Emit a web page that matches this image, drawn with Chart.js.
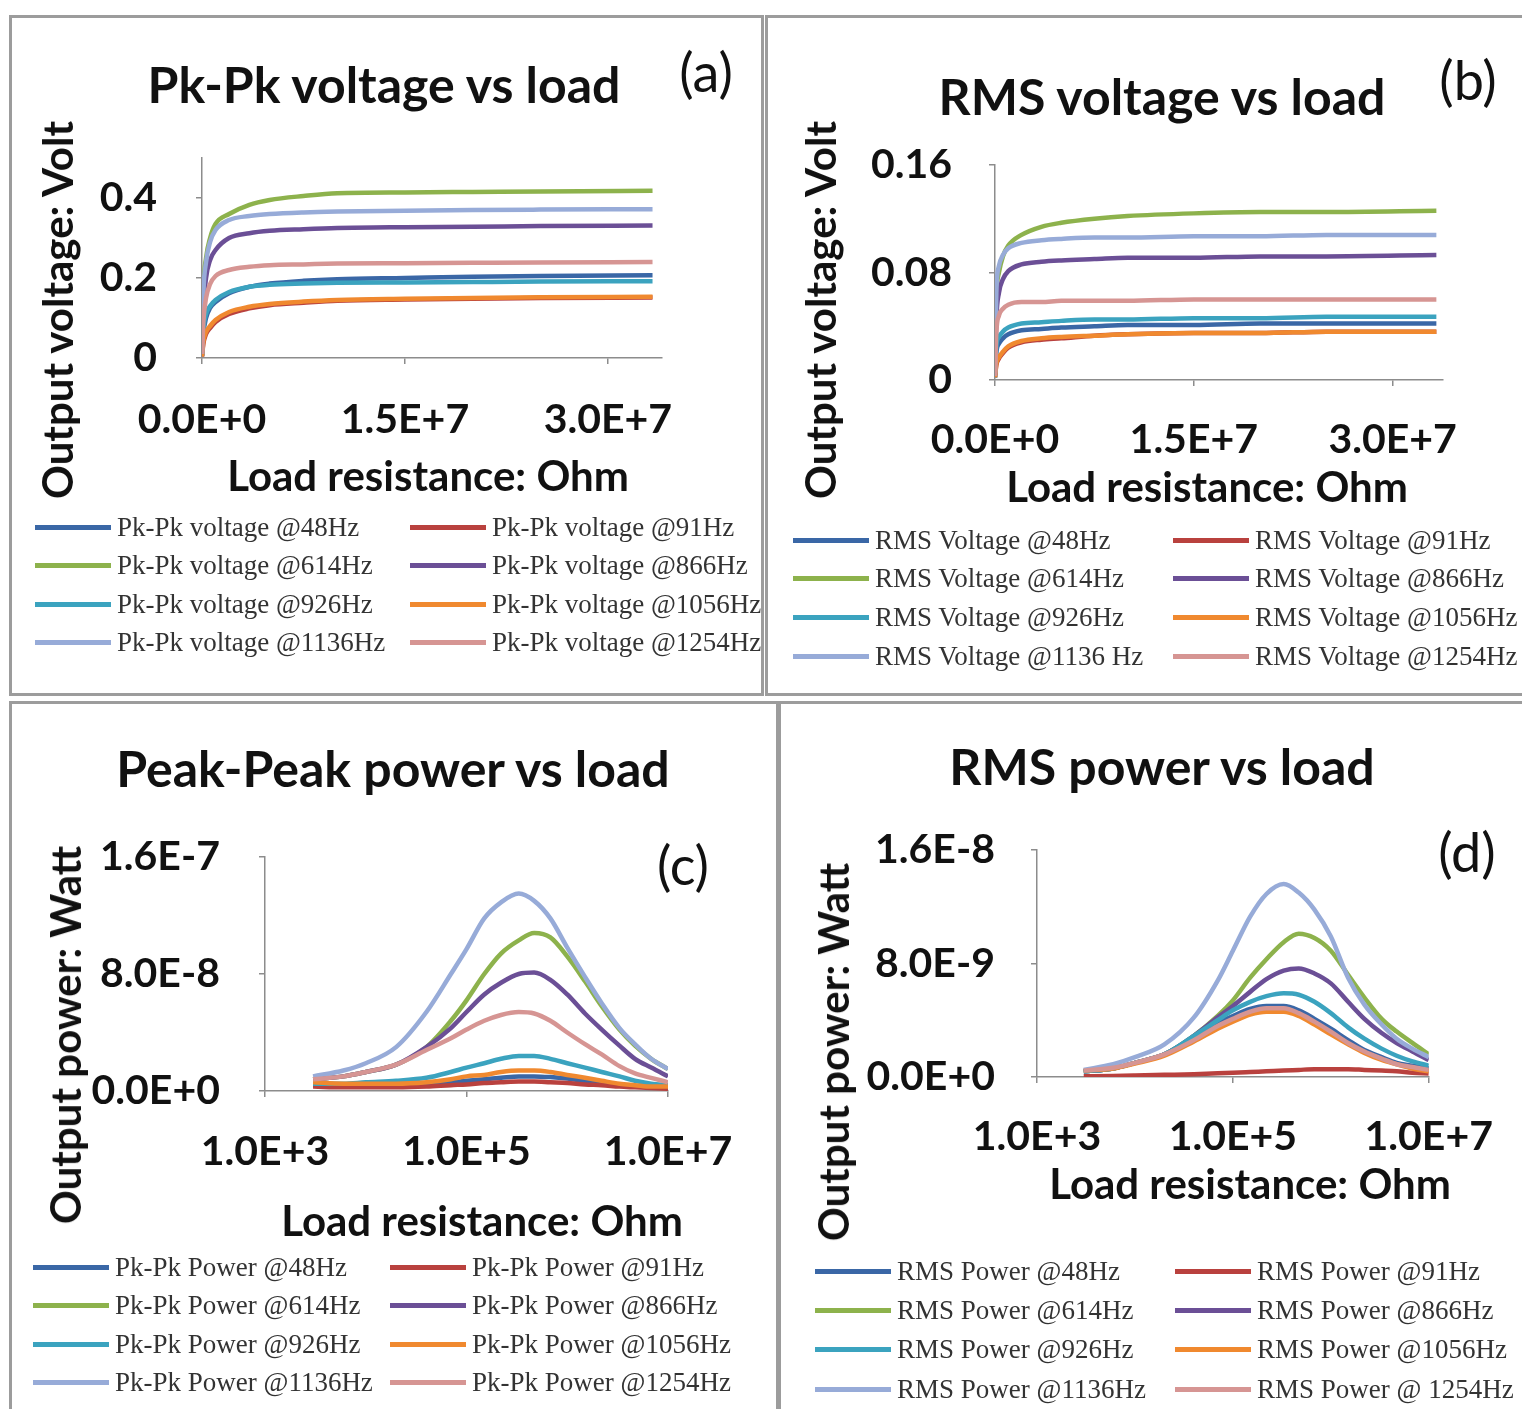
<!DOCTYPE html>
<html>
<head>
<meta charset="utf-8">
<title>Output voltage and power vs load</title>
<script src="https://cdn.jsdelivr.net/npm/chart.js@4.4.1/dist/chart.umd.min.js"></script>
<style>
  body { margin: 0; background: #fff; }
  #page { position: relative; width: 1522px; height: 1409px; overflow: hidden; background: #fff; }
  .frame { position: absolute; border: 3px solid #9c9c9c; box-sizing: border-box; }
  canvas { position: absolute; }
  .txt { position: absolute; white-space: nowrap; transform: translate(-50%, -50%); color: #111;
         font-family: Lato, "Open Sans", sans-serif; line-height: 1; }
  .title { font-size: 50px; font-weight: 700; }
  .tag { font-size: 54px; font-weight: 400; }
  .axt { font-size: 42px; font-weight: 700; }
  .vert { transform: translate(-50%, -50%) rotate(-90deg); }
  .leg { position: absolute; white-space: nowrap; font-family: "Liberation Serif", "DejaVu Serif", serif;
         font-size: 27px; color: #333; line-height: 30px; transform: translateY(-50%); }
  .leg i { display: inline-block; width: 76px; height: 5px; vertical-align: middle; margin-right: 6px;
           position: relative; top: -2px; }
</style>
</head>
<body>
<div id="page"></div>
<script>
// series: test frequencies, Excel 2007 line colours
const freqs = ['48Hz', '91Hz', '614Hz', '866Hz', '926Hz', '1056Hz', '1136Hz', '1254Hz'];
const seriesColors = ['#3A67A6', '#B9413E', '#8DB24C', '#6B4F96', '#3BA3BF', '#F0892F', '#97ABD8', '#D69593'];

// load resistance (Ohm) for the voltage sweeps (a), (b)
const loadVolt = [1e3, 1e5, 3e5, 6e5, 1e6, 2e6, 3.5e6, 5e6, 7.5e6, 1e7, 1.5e7, 2e7, 2.5e7, 3.33e7];
// load resistance (Ohm) for the power sweeps (c), (d)
const loadPow = [3e3, 6e3, 1e4, 2e4, 4e4, 7e4, 1e5, 1.5e5, 2.2e5, 3.3e5, 4.7e5, 6.8e5, 1e6, 1.5e6, 2.2e6, 3.3e6, 4.7e6, 6.8e6, 1e7];

// (a) peak-peak voltage, V
const vpp48   = [0.005, 0.06, 0.10, 0.125, 0.14, 0.162, 0.178, 0.186, 0.193, 0.197, 0.200, 0.203, 0.205, 0.207];
const vpp91   = [0.004, 0.035, 0.06, 0.075, 0.09, 0.11, 0.124, 0.132, 0.138, 0.143, 0.146, 0.148, 0.150, 0.151];
const vpp614  = [0.01, 0.17, 0.25, 0.30, 0.335, 0.36, 0.383, 0.395, 0.405, 0.412, 0.414, 0.415, 0.416, 0.418];
const vpp866  = [0.01, 0.12, 0.20, 0.245, 0.27, 0.30, 0.312, 0.318, 0.322, 0.325, 0.327, 0.328, 0.330, 0.331];
const vpp926  = [0.005, 0.07, 0.11, 0.13, 0.145, 0.165, 0.178, 0.183, 0.186, 0.188, 0.189, 0.190, 0.191, 0.192];
const vpp1056 = [0.004, 0.04, 0.065, 0.08, 0.095, 0.115, 0.128, 0.135, 0.141, 0.145, 0.148, 0.150, 0.152, 0.153];
const vpp1136 = [0.01, 0.16, 0.24, 0.29, 0.32, 0.345, 0.355, 0.36, 0.364, 0.366, 0.368, 0.370, 0.371, 0.372];
const vpp1254 = [0.01, 0.09, 0.15, 0.185, 0.205, 0.22, 0.228, 0.232, 0.234, 0.236, 0.237, 0.238, 0.239, 0.240];

// (b) RMS voltage, V
const vrms48   = [0.002, 0.02, 0.027, 0.031, 0.034, 0.037, 0.038, 0.039, 0.040, 0.041, 0.041, 0.042, 0.042, 0.042];
const vrms91   = [0.002, 0.011, 0.016, 0.020, 0.024, 0.028, 0.030, 0.031, 0.033, 0.034, 0.035, 0.035, 0.036, 0.036];
const vrms614  = [0.005, 0.06, 0.08, 0.092, 0.10, 0.108, 0.114, 0.117, 0.120, 0.122, 0.124, 0.125, 0.125, 0.126];
const vrms866  = [0.004, 0.045, 0.065, 0.075, 0.081, 0.086, 0.088, 0.089, 0.090, 0.091, 0.091, 0.092, 0.092, 0.093];
const vrms926  = [0.002, 0.025, 0.032, 0.036, 0.039, 0.042, 0.043, 0.044, 0.045, 0.045, 0.046, 0.046, 0.047, 0.047];
const vrms1056 = [0.002, 0.012, 0.017, 0.021, 0.025, 0.029, 0.031, 0.032, 0.033, 0.034, 0.035, 0.035, 0.036, 0.036];
const vrms1136 = [0.005, 0.065, 0.085, 0.093, 0.098, 0.102, 0.104, 0.105, 0.106, 0.106, 0.107, 0.107, 0.108, 0.108];
const vrms1254 = [0.003, 0.035, 0.048, 0.053, 0.056, 0.058, 0.058, 0.059, 0.059, 0.059, 0.060, 0.060, 0.060, 0.060];

// (c) peak-peak power, W
const ppp48   = [0.4e-8, 0.4e-8, 0.4e-8, 0.4e-8, 0.5e-8, 0.6e-8, 0.7e-8, 0.8e-8, 0.9e-8, 1.0e-8, 1.0e-8, 0.95e-8, 0.85e-8, 0.7e-8, 0.6e-8, 0.45e-8, 0.35e-8, 0.3e-8, 0.2e-8];
const ppp91   = [0.3e-8, 0.25e-8, 0.25e-8, 0.25e-8, 0.3e-8, 0.4e-8, 0.45e-8, 0.55e-8, 0.6e-8, 0.65e-8, 0.65e-8, 0.6e-8, 0.55e-8, 0.45e-8, 0.4e-8, 0.3e-8, 0.25e-8, 0.2e-8, 0.15e-8];
const ppp614  = [0.8e-8, 1.0e-8, 1.3e-8, 1.8e-8, 3.0e-8, 4.8e-8, 6.2e-8, 8.0e-8, 9.4e-8, 10.3e-8, 10.8e-8, 10.5e-8, 9.2e-8, 7.5e-8, 5.8e-8, 4.2e-8, 3.1e-8, 2.2e-8, 1.5e-8];
const ppp866  = [0.8e-8, 1.0e-8, 1.3e-8, 1.8e-8, 3.0e-8, 4.3e-8, 5.4e-8, 6.6e-8, 7.4e-8, 8.0e-8, 8.1e-8, 7.6e-8, 6.6e-8, 5.3e-8, 4.2e-8, 3.1e-8, 2.2e-8, 1.6e-8, 1.0e-8];
const ppp926  = [0.5e-8, 0.5e-8, 0.6e-8, 0.7e-8, 0.9e-8, 1.3e-8, 1.6e-8, 1.9e-8, 2.2e-8, 2.4e-8, 2.4e-8, 2.2e-8, 1.9e-8, 1.6e-8, 1.3e-8, 1.0e-8, 0.7e-8, 0.5e-8, 0.4e-8];
const ppp1056 = [0.6e-8, 0.5e-8, 0.5e-8, 0.5e-8, 0.6e-8, 0.8e-8, 1.0e-8, 1.1e-8, 1.3e-8, 1.4e-8, 1.4e-8, 1.3e-8, 1.1e-8, 0.9e-8, 0.7e-8, 0.5e-8, 0.4e-8, 0.3e-8, 0.3e-8];
const ppp1136 = [1.0e-8, 1.4e-8, 1.9e-8, 3.0e-8, 5.4e-8, 8.0e-8, 9.7e-8, 11.8e-8, 12.9e-8, 13.5e-8, 13.0e-8, 11.8e-8, 9.8e-8, 7.8e-8, 6.0e-8, 4.3e-8, 3.2e-8, 2.2e-8, 1.5e-8];
const ppp1254 = [0.8e-8, 1.0e-8, 1.3e-8, 1.8e-8, 2.8e-8, 3.6e-8, 4.2e-8, 4.8e-8, 5.2e-8, 5.4e-8, 5.3e-8, 4.8e-8, 4.0e-8, 3.2e-8, 2.5e-8, 1.7e-8, 1.2e-8, 0.9e-8, 0.6e-8];

// (d) RMS power, W
const prms48   = [0.4e-9, 0.6e-9, 1.0e-9, 1.6e-9, 2.8e-9, 3.8e-9, 4.3e-9, 4.8e-9, 5.0e-9, 5.0e-9, 4.7e-9, 4.1e-9, 3.4e-9, 2.6e-9, 1.9e-9, 1.4e-9, 1.0e-9, 0.8e-9, 0.6e-9];
const prms91   = [0.05e-9, 0.07e-9, 0.1e-9, 0.15e-9, 0.2e-9, 0.27e-9, 0.3e-9, 0.35e-9, 0.4e-9, 0.45e-9, 0.5e-9, 0.55e-9, 0.55e-9, 0.55e-9, 0.5e-9, 0.45e-9, 0.4e-9, 0.3e-9, 0.25e-9];
const prms614  = [0.4e-9, 0.6e-9, 1.0e-9, 1.6e-9, 2.9e-9, 4.3e-9, 5.4e-9, 7.0e-9, 8.3e-9, 9.5e-9, 10.1e-9, 9.8e-9, 8.9e-9, 7.2e-9, 5.6e-9, 4.1e-9, 3.2e-9, 2.4e-9, 1.6e-9];
const prms866  = [0.4e-9, 0.6e-9, 1.0e-9, 1.6e-9, 2.9e-9, 4.2e-9, 5.0e-9, 6.0e-9, 6.9e-9, 7.5e-9, 7.65e-9, 7.3e-9, 6.6e-9, 5.3e-9, 4.1e-9, 3.1e-9, 2.4e-9, 1.8e-9, 1.2e-9];
const prms926  = [0.4e-9, 0.6e-9, 1.0e-9, 1.6e-9, 2.9e-9, 4.0e-9, 4.7e-9, 5.3e-9, 5.7e-9, 5.9e-9, 5.8e-9, 5.3e-9, 4.5e-9, 3.5e-9, 2.7e-9, 2.0e-9, 1.5e-9, 1.1e-9, 0.8e-9];
const prms1056 = [0.45e-9, 0.6e-9, 0.95e-9, 1.5e-9, 2.5e-9, 3.4e-9, 3.9e-9, 4.4e-9, 4.6e-9, 4.6e-9, 4.3e-9, 3.7e-9, 3.0e-9, 2.3e-9, 1.7e-9, 1.2e-9, 0.9e-9, 0.6e-9, 0.4e-9];
const prms1136 = [0.5e-9, 0.9e-9, 1.4e-9, 2.3e-9, 4.2e-9, 6.8e-9, 8.9e-9, 11.3e-9, 12.9e-9, 13.6e-9, 13.0e-9, 11.8e-9, 9.9e-9, 7.0e-9, 5.1e-9, 3.7e-9, 2.7e-9, 2.0e-9, 1.4e-9];
const prms1254 = [0.45e-9, 0.65e-9, 1.0e-9, 1.6e-9, 2.6e-9, 3.6e-9, 4.1e-9, 4.6e-9, 4.85e-9, 4.85e-9, 4.5e-9, 3.9e-9, 3.2e-9, 2.4e-9, 1.8e-9, 1.3e-9, 0.9e-9, 0.7e-9, 0.5e-9];

// axis tick values
const ticksVoltX = [0, 1.5e7, 3.0e7];
const ticksPowX = [1e3, 1e5, 1e7];
const ticksVppY = [0, 0.2, 0.4];
const ticksVrmsY = [0, 0.08, 0.16];
const ticksPppY = [0, 8e-8, 1.6e-7];
const ticksPrmsY = [0, 8e-9, 1.6e-8];

const page = document.getElementById('page');
const axisGrey = '#8c8c8c';
const tickFont = { family: 'Lato', size: 41, weight: 'bold' };

function addDiv(cls, text, x, y) {
  const d = document.createElement('div');
  d.className = cls;
  d.textContent = text;
  d.style.left = x + 'px';
  d.style.top = y + 'px';
  page.appendChild(d);
  return d;
}

function addFrame(x, y, w, h) {
  const f = document.createElement('div');
  f.className = 'frame';
  Object.assign(f.style, { left: x + 'px', top: y + 'px', width: w + 'px', height: h + 'px' });
  page.appendChild(f);
}

function addLegend(labels, rowsY, col1, col2) {
  labels.forEach((lab, i) => {
    const col = i % 2 === 0 ? col1 : col2;
    const d = document.createElement('div');
    d.className = 'leg';
    d.style.left = col + 'px';
    d.style.top = rowsY[Math.floor(i / 2)] + 'px';
    const sw = document.createElement('i');
    sw.style.background = seriesColors[i];
    d.appendChild(sw);
    d.appendChild(document.createTextNode(lab));
    page.appendChild(d);
  });
}

function expLabel(v) {
  return Number(v).toExponential(1).toUpperCase();
}

function makeChart(p) {
  const cv = document.createElement('canvas');
  cv.width = p.box.w;
  cv.height = p.box.h;
  cv.style.left = p.box.x + 'px';
  cv.style.top = p.box.y + 'px';
  page.appendChild(cv);

  const xH = 90;
  const datasets = p.series.map((ys, i) => ({
    label: p.labels[i],
    data: ys.map((y, j) => ({ x: p.xs[j], y: y })),
    borderColor: seriesColors[i],
    backgroundColor: seriesColors[i],
    borderWidth: 4.5,
    pointRadius: 0,
    cubicInterpolationMode: 'monotone',
    order: p.series.length - i
  }));

  new Chart(cv, {
    type: 'line',
    data: { datasets },
    options: {
      responsive: false,
      animation: false,
      events: [],
      layout: {
        autoPadding: false,
        padding: {
          left: 0,
          top: p.area.t - p.box.y,
          right: p.box.x + p.box.w - p.area.r,
          bottom: p.box.y + p.box.h - p.area.b - xH
        }
      },
      plugins: { legend: { display: false }, tooltip: { enabled: false } },
      scales: {
        x: {
          type: p.xType,
          min: p.xMin,
          max: p.xMax,
          afterBuildTicks: s => { s.ticks = p.xTicks.map(v => ({ value: v })); },
          afterFit: s => { s.height = xH; },
          ticks: { font: tickFont, color: '#111', padding: p.xPad, maxRotation: 0, autoSkip: false,
                   callback: v => expLabel(v) },
          grid: { drawOnChartArea: false, tickLength: 6, color: axisGrey, lineWidth: 1.5 },
          border: { color: axisGrey, width: 1.5 }
        },
        y: {
          type: 'linear',
          min: 0,
          max: p.yMax,
          afterBuildTicks: s => { s.ticks = p.yTicks.map(v => ({ value: v })); },
          afterFit: s => { s.width = p.area.l - p.box.x; },
          ticks: { font: tickFont, color: '#111', padding: p.yPad, callback: p.yFmt },
          grid: { drawOnChartArea: false, tickLength: 6, color: axisGrey, lineWidth: 1.5 },
          border: { color: axisGrey, width: 1.5 }
        }
      }
    }
  });
}

const plainFmt = v => String(+Number(v).toFixed(2));

// panel frames
addFrame(9, 15, 755, 681);
addFrame(765, 15, 762, 681);
addFrame(9, 701, 770, 720);
addFrame(778, 701, 752, 720);

// (a) Pk-Pk voltage
makeChart({
  box: { x: 12, y: 18, w: 750, h: 676 },
  area: { l: 202, t: 158, r: 662, b: 358 },
  xs: loadVolt, series: [vpp48, vpp91, vpp614, vpp866, vpp926, vpp1056, vpp1136, vpp1254],
  labels: freqs.map(f => 'Pk-Pk voltage @' + f),
  xType: 'linear', xMin: 0, xMax: 3.4e7, xTicks: ticksVoltX, xPad: 31,
  yMax: 0.5, yTicks: ticksVppY, yPad: 39, yFmt: plainFmt
});
addDiv('txt title', 'Pk-Pk voltage vs load', 384, 84);
addDiv('txt tag', '(a)', 706, 72);
addDiv('txt axt', 'Load resistance: Ohm', 428, 475);
addDiv('txt axt vert', 'Output voltage: Volt', 57, 310);
addLegend(freqs.map(f => 'Pk-Pk voltage @' + f), [527, 565, 604, 642], 35, 410);

// (b) RMS voltage
makeChart({
  box: { x: 768, y: 18, w: 754, h: 676 },
  area: { l: 995, t: 165, r: 1443, b: 380 },
  xs: loadVolt, series: [vrms48, vrms91, vrms614, vrms866, vrms926, vrms1056, vrms1136, vrms1254],
  labels: freqs.map(f => 'RMS Voltage @' + f),
  xType: 'linear', xMin: 0, xMax: 3.38e7, xTicks: ticksVoltX, xPad: 29,
  yMax: 0.16, yTicks: ticksVrmsY, yPad: 37, yFmt: plainFmt
});
addDiv('txt title', 'RMS voltage vs load', 1162, 96);
addDiv('txt tag', '(b)', 1468, 80);
addDiv('txt axt', 'Load resistance: Ohm', 1207, 486);
addDiv('txt axt vert', 'Output voltage: Volt', 820, 310);
addLegend(['RMS Voltage @48Hz', 'RMS Voltage @91Hz', 'RMS Voltage @614Hz', 'RMS Voltage @866Hz',
           'RMS Voltage @926Hz', 'RMS Voltage @1056Hz', 'RMS Voltage @1136 Hz', 'RMS Voltage @1254Hz'],
          [540, 578, 617, 656], 793, 1173);

// (c) Peak-Peak power
makeChart({
  box: { x: 12, y: 704, w: 764, h: 705 },
  area: { l: 265, t: 857, r: 668, b: 1091 },
  xs: loadPow, series: [ppp48, ppp91, ppp614, ppp866, ppp926, ppp1056, ppp1136, ppp1254],
  labels: freqs.map(f => 'Pk-Pk Power @' + f),
  xType: 'logarithmic', xMin: 1e3, xMax: 1e7, xTicks: ticksPowX, xPad: 30,
  yMax: 1.6e-7, yTicks: ticksPppY, yPad: 39, yFmt: v => expLabel(v)
});
addDiv('txt title', 'Peak-Peak power vs load', 393, 768);
addDiv('txt tag', '(c)', 683, 865);
addDiv('txt axt', 'Load resistance: Ohm', 482, 1220);
addDiv('txt axt vert', 'Output power: Watt', 65, 1035);
addLegend(freqs.map(f => 'Pk-Pk Power @' + f), [1267, 1305, 1344, 1382], 33, 390);

// (d) RMS power
makeChart({
  box: { x: 781, y: 704, w: 741, h: 705 },
  area: { l: 1037, t: 850, r: 1436, b: 1077 },
  xs: loadPow, series: [prms48, prms91, prms614, prms866, prms926, prms1056, prms1136, prms1254],
  labels: freqs.map(f => 'RMS Power @' + f),
  xType: 'logarithmic', xMin: 1e3, xMax: 1e7, xTicks: ticksPowX, xPad: 29,
  yMax: 1.6e-8, yTicks: ticksPrmsY, yPad: 36, yFmt: v => expLabel(v)
});
addDiv('txt title', 'RMS power vs load', 1162, 766);
addDiv('txt tag', '(d)', 1467, 852);
addDiv('txt axt', 'Load resistance: Ohm', 1250, 1183);
addDiv('txt axt vert', 'Output power: Watt', 833, 1052);
addLegend(['RMS Power @48Hz', 'RMS Power @91Hz', 'RMS Power @614Hz', 'RMS Power @866Hz',
           'RMS Power @926Hz', 'RMS Power @1056Hz', 'RMS Power @1136Hz', 'RMS Power @ 1254Hz'],
          [1271, 1310, 1349, 1389], 815, 1175);
</script>
</body>
</html>
